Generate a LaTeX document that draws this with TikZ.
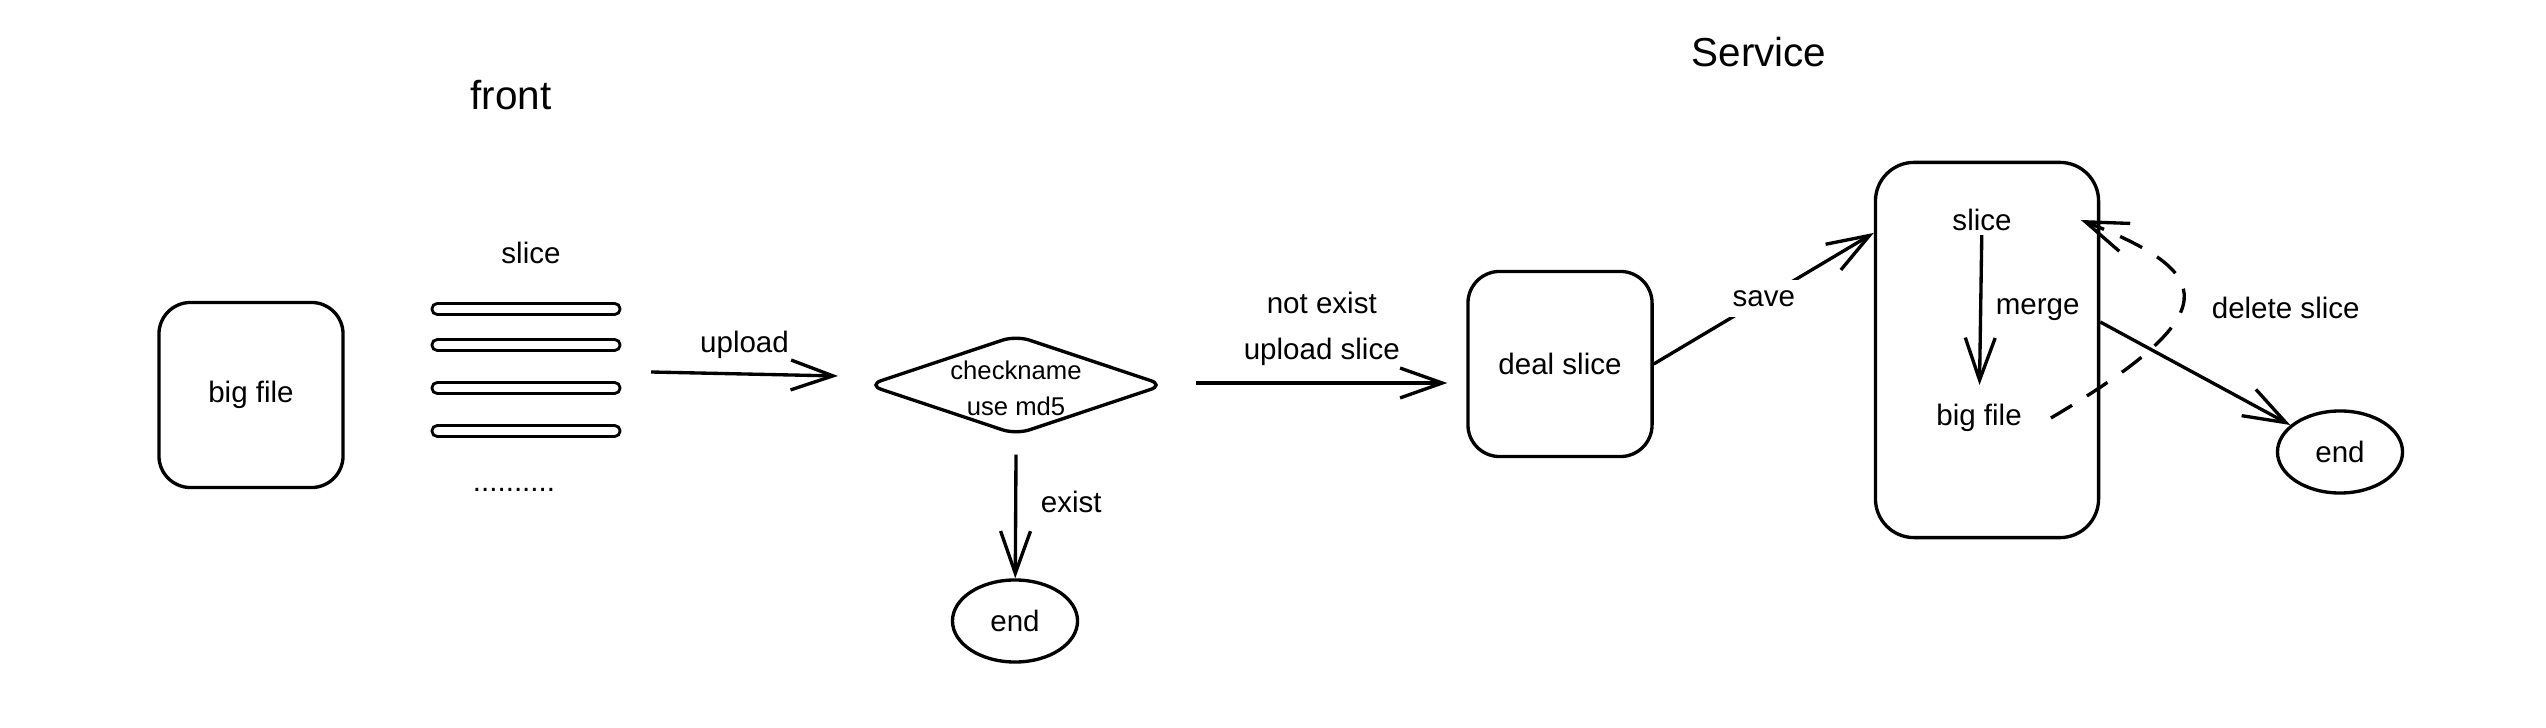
\documentclass[tikz,border=0pt]{standalone}
\usepackage{fontspec}
\setmainfont{Liberation Sans}
\usetikzlibrary{shapes.geometric,arrows.meta,positioning}
\tikzset{
  sk_box/.style={rectangle,rounded corners=9pt,
    draw=black,line width=0.95pt,
    minimum width=1.84cm,minimum height=1.85cm,inner sep=0pt},
  sk_bar/.style={rectangle,rounded corners=1.5pt,
    draw=black,line width=0.8pt,
    minimum width=1.88cm,minimum height=0.11cm,inner sep=0pt},
  sk_dec/.style={diamond,rounded corners=4pt,
    draw=black,line width=0.95pt,
    minimum width=2.97cm,minimum height=1.0cm,inner sep=0pt},
  sk_end/.style={ellipse,
    draw=black,line width=0.95pt,
    minimum width=1.25cm,minimum height=0.82cm,inner sep=0pt},
  sk_txt/.style={font=\fontsize{8.4}{10.5}\selectfont,inner sep=1pt},
  sk_title/.style={font=\fontsize{11.5}{14}\selectfont},
  arr/.style={-{Straight Barb[length=12pt,width=8.5pt]},line width=0.95pt},
}

\begin{document}
\begin{tikzpicture}[x=0.01cm,y=-0.01cm,
                    every node/.style={sk_txt}]
  \useasboundingbox (0,0) rectangle (2546,728);
  % Titles
  \node (front) [sk_title] at (511,95) {front};
  \node (service) [sk_title] at (1759,52) {Service};
  % Front side
  \node (bigfile) [sk_box] at (251,395) {big file};
  \node (slice) at (531,253) {slice};
  \foreach \y [count=\i] in {309,345,388,431}
    \node (bar\i) [sk_bar] at (526,\y) {};
  \node (more) at (514,490) {..........};
  \node (check) [sk_dec] at (1016,385) {};
  \node (check_txt) [align=center,font=\fontsize{7.3}{10.3}\selectfont]
    at ([yshift=-0.03cm]check) {checkname\\use md5};
  \node (end_a) [sk_end] at (1015,621) {end};
  % Service side
  \node (deal) [sk_box] at (1560,364) {deal slice};
  \node (store) [sk_box,rounded corners=11pt,
    minimum width=2.23cm,minimum height=3.75cm] at (1987,350) {};
  \node (s_slice) at (1982,220) {slice};
  \node (s_big) at (1979,418) {big file};
  \node (end_b) [sk_end] at (2340,452) {end};

  \coordinate (up_from) at (651,372);
  \coordinate (up_to) at (838,376);
  \draw[arr] (up_from)--node[above=0.1cm]{upload}(up_to);
  \draw[arr] ([xshift=0.3cm,yshift=0.02cm]check.east)--node[above=0.12cm,align=center,
    font=\fontsize{8.4}{13}\selectfont]{not exist\\upload slice}
    ([xshift=-0.19cm,yshift=0.02cm]deal.west |- check.east);
  \draw[arr] ([yshift=-0.18cm]check.south)--node[pos=0.38,right=0.2cm]{exist}(end_a);
  \draw[arr] (deal.east)--node[fill=white,inner sep=3pt]{save}([yshift=1.17cm]store.west);
  \draw[arr,shorten >=0.15cm] (s_slice)--node[pos=0.45,right=0.1cm]{merge}(s_big);
  \draw[arr] ([yshift=0.28cm]store.east)--(end_b);
  % Cleanup loop
  \draw[arr,dash pattern=on 7pt off 5pt] ([xshift=0.25cm]s_big.east)
    .. controls (2230,312) and (2215,273) .. node[pos=0.45,right=0.25cm]{delete slice}
    ([xshift=0.65cm]s_slice.east);
\end{tikzpicture}
\end{document}
